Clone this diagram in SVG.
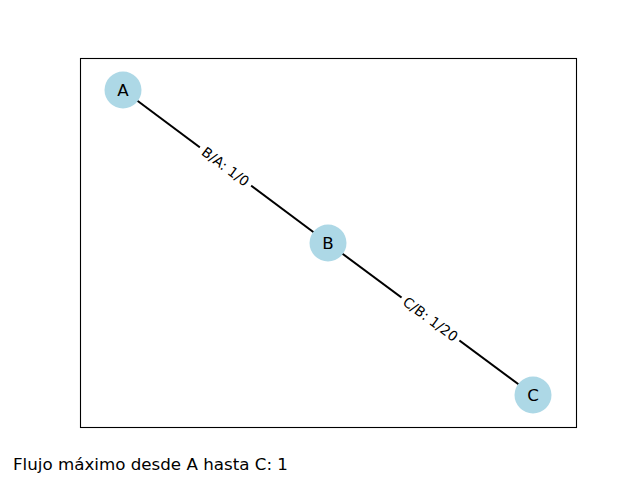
<svg xmlns="http://www.w3.org/2000/svg" width="640" height="480" viewBox="0 0 640 480">
<style>
.node circle{fill:#add8e6;}
.node text{font-family:"DejaVu Sans",sans-serif;font-size:16.7px;fill:#000;text-anchor:middle;dominant-baseline:central;}
.edge{stroke:#000;stroke-width:2;}
.elabel text{font-family:"DejaVu Sans",sans-serif;font-size:13.9px;fill:#000;text-anchor:middle;dominant-baseline:central;}
.elabel rect{fill:#fff;}
</style>
<rect x="0" y="0" width="640" height="480" fill="#fff"/>
<rect x="80.5" y="58.5" width="496" height="369" fill="none" stroke="#000" stroke-width="1.1"/>
<g id="connectors">
<line class="edge" x1="123" y1="90" x2="328" y2="243"/>
<line class="edge" x1="328" y1="243" x2="533" y2="395"/>
<g class="elabel" transform="translate(225.5,166.5) rotate(36.7)">
<rect x="-32" y="-9" width="64" height="18"/>
<text x="0" y="0">B/A: 1/0</text>
</g>
<g class="elabel" transform="translate(430.5,319) rotate(36.6)">
<rect x="-36" y="-9" width="72" height="18"/>
<text x="0" y="0">C/B: 1/20</text>
</g>
</g>
<g id="node-A" class="node"><circle cx="123" cy="90" r="18.5"/><text x="123" y="90">A</text></g>
<g id="node-B" class="node"><circle cx="328" cy="243" r="18.5"/><text x="328" y="243">B</text></g>
<g id="node-C" class="node"><circle cx="533" cy="395" r="18.5"/><text x="533" y="395">C</text></g>
<text x="13" y="470" font-family="DejaVu Sans, sans-serif" font-size="16.7px" fill="#000">Flujo máximo desde A hasta C: 1</text>
</svg>
